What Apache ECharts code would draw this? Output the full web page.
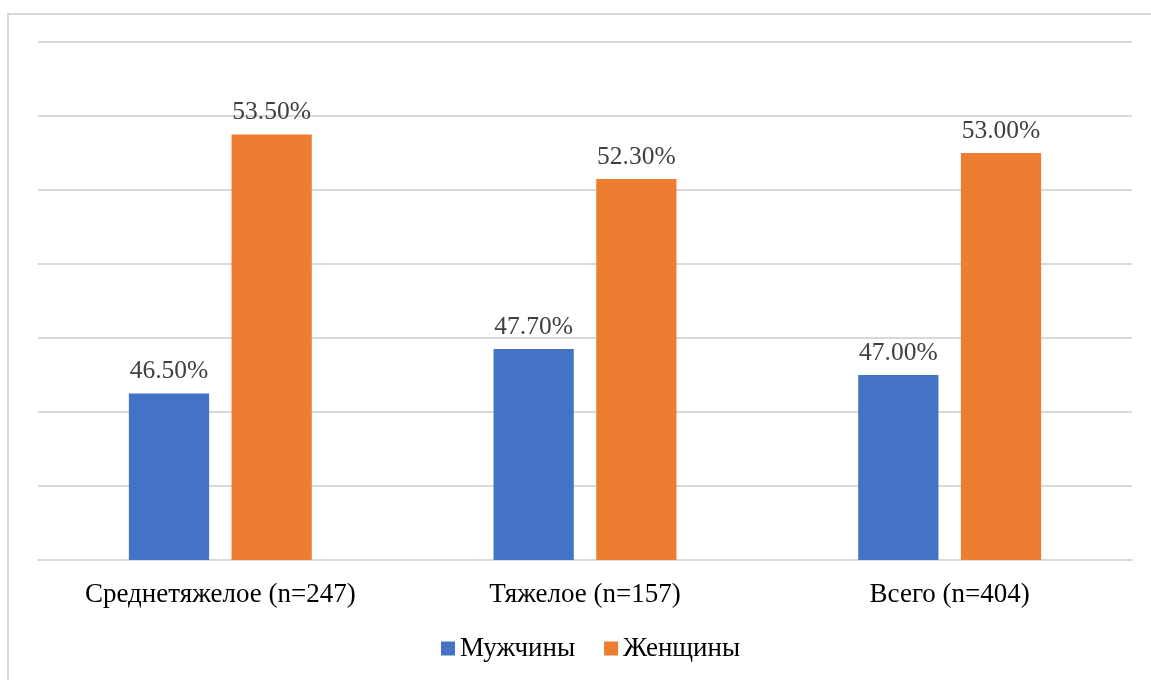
<!DOCTYPE html>
<html>
<head>
<meta charset="utf-8">
<script src="https://cdn.jsdelivr.net/npm/echarts@6/dist/echarts.min.js"></script>
<style>
  html, body { margin: 0; padding: 0; background: #fff; }
  #chart { width: 1151px; height: 680px; }
</style>
</head>
<body>
<div id="chart"></div>
<script>
// Доли мужчин и женщин по степени тяжести
const categories = ['Среднетяжелое (n=247)', 'Тяжелое (n=157)', 'Всего (n=404)'];
const men = [46.5, 47.7, 47.0];
const women = [53.5, 52.3, 53.0];
const seriesNames = ['Мужчины', 'Женщины'];

const FONT = '"Liberation Serif", "Times New Roman", serif';

const chart = echarts.init(document.getElementById('chart'), null, { renderer: 'canvas' });

const labelStyle = {
  show: true,
  position: 'top',
  distance: 9,
  color: '#404040',
  fontFamily: FONT,
  fontSize: 25.5,
  formatter: p => p.value.toFixed(2) + '%'
};

chart.setOption({
  animation: false,
  backgroundColor: '#ffffff',
  graphic: [{
    type: 'rect',
    shape: { x: 8, y: 14, width: 1300, height: 800 },
    style: { fill: 'none', stroke: '#d9d9d9', lineWidth: 2 },
    silent: true
  }],
  grid: { left: 38, right: 19, top: 42, bottom: 120 },
  legend: {
    bottom: 13,
    left: 436,
    itemWidth: 14,
    itemHeight: 14,
    itemGap: 29,
    icon: 'rect',
    textStyle: { fontFamily: FONT, fontSize: 27, color: '#000000' },
    data: seriesNames
  },
  xAxis: {
    type: 'category',
    data: categories,
    axisLine: { lineStyle: { color: '#d9d9d9', width: 2 } },
    axisTick: { show: false },
    axisLabel: { margin: 21, color: '#000000', fontFamily: FONT, fontSize: 27 }
  },
  yAxis: {
    type: 'value',
    min: 42,
    max: 56,
    interval: 2,
    axisLabel: { show: false },
    axisLine: { show: false },
    axisTick: { show: false },
    splitLine: { lineStyle: { color: '#d9d9d9', width: 2 } }
  },
  series: [
    {
      name: seriesNames[0],
      type: 'bar',
      data: men,
      barWidth: '22%',
      barGap: '28%',
      itemStyle: { color: '#4472c4' },
      label: labelStyle
    },
    {
      name: seriesNames[1],
      type: 'bar',
      data: women,
      barWidth: '22%',
      itemStyle: { color: '#ed7d31' },
      label: labelStyle
    }
  ]
});
</script>
</body>
</html>
